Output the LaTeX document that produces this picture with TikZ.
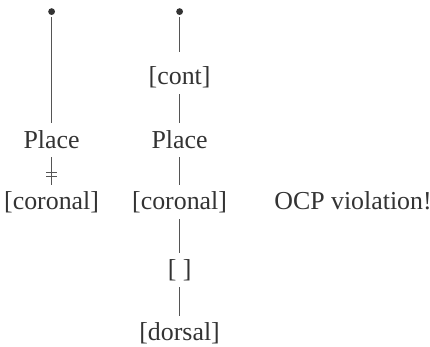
\documentclass[tikz,border=0pt]{standalone}
\usepackage{fontspec}
\setmainfont{Liberation Serif}
\usetikzlibrary{positioning}
\definecolor{inkdark}{HTML}{333333}
\definecolor{linegray}{HTML}{555555}

\begin{document}
\begin{tikzpicture}[
  feat/.style={font=\fontsize{18.4}{22}\selectfont, text=inkdark, inner sep=0pt, minimum height=0.85cm},
  rootdot/.style={circle, fill=inkdark, inner sep=0pt, minimum size=0.17cm, outer sep=0.06cm},
  assoc/.style={draw=linegray, line width=0.75pt},
]
% 1 px of the 430x346 frame = 0.025 cm; y runs downwards (negative)
\useasboundingbox (0,0) rectangle (10.75,-8.65);

% left root: delinked Place node
\node[rootdot] (lroot) at (1.29,-0.29) {};
\node[feat] (lplace) at (1.29,-3.50) {Place};
\node[feat] (lcor) at (1.29,-5.05) {[coronal]};

% right root: contour segment
\node[rootdot] (rroot) at (4.49,-0.29) {};
\node[feat] (rcont) at (4.49,-1.925) {[cont]};
\node[feat] (rplace) at (4.49,-3.50) {Place};
\node[feat] (rcor) at (4.49,-5.05) {[coronal]};
\node[feat] (rempty) at (4.49,-6.75) {[\ ]};
\node[feat] (rdors) at (4.49,-8.325) {[dorsal]};

\node[feat, anchor=base] (ocp) at (8.825,0 |- rcor.base) {OCP violation!};

\draw[assoc] (lroot) -- (lplace);
\draw[assoc] (lplace) -- coordinate[pos=0.64] (cut) (lcor);
% delinking mark
\draw[assoc] ([xshift=-0.14cm, yshift=0.05cm]cut) -- ([xshift=0.14cm, yshift=0.05cm]cut);
\draw[assoc] ([xshift=-0.14cm, yshift=-0.05cm]cut) -- ([xshift=0.14cm, yshift=-0.05cm]cut);

\draw[assoc, shorten >=0.2cm] (rroot) -- (rcont);
\draw[assoc] (rcont) -- (rplace);
\draw[assoc] (rplace) -- (rcor);
\draw[assoc] (rcor) -- (rempty);
\draw[assoc] (rempty) -- (rdors);
\end{tikzpicture}
\end{document}
